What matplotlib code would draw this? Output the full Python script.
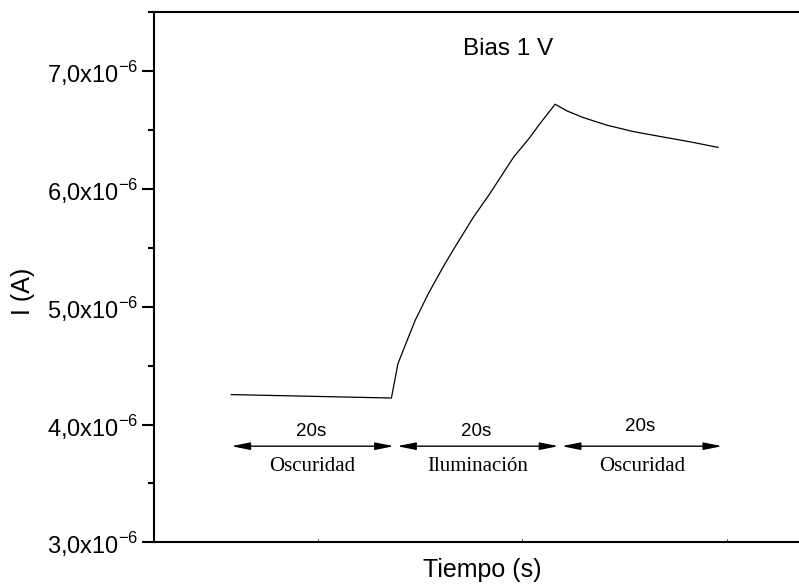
import numpy as np
import matplotlib
matplotlib.use('Agg')
import matplotlib.pyplot as plt
from matplotlib.ticker import MultipleLocator, FixedLocator, FuncFormatter

plt.rcParams['font.family'] = ['Liberation Sans', 'DejaVu Sans']
plt.rcParams['mathtext.fontset'] = 'custom'
plt.rcParams['mathtext.rm'] = 'Liberation Sans'

# time (s) and current (x1e-6 A)
t = [14.45, 34.0, 34.8, 35.6, 36.9, 38.5, 40.3, 41.5, 44.0, 46.0, 48.9,
     50.9, 52.1, 54.0, 55.4, 57.4, 60.3, 63.5, 66.8, 70.5, 73.9]
i_ua = [4.254, 4.225, 4.517, 4.658, 4.884, 5.11, 5.336, 5.477, 5.759, 5.958, 6.268,
        6.437, 6.551, 6.72, 6.664, 6.607, 6.542, 6.488, 6.446, 6.40, 6.353]

# phase arrows: start, end, label
phases = [(14.45, 34.3, 'Oscuridad'), (34.7, 54.4, 'Iluminación'), (54.8, 74.4, 'Oscuridad')]
dur_labels = ['20s', '20s', '20s']

fig = plt.figure(figsize=(7.99, 5.86), dpi=100)
ax = fig.add_axes([0.1927, 0.0746, 0.8198, 0.9044])

ax.plot(np.array(t), np.array(i_ua) * 1e-6, color='black', lw=0.9)

arrow_y = 3.816e-6
for k, (a, b, name) in enumerate(phases):
    ax.annotate('', xy=(b, arrow_y), xytext=(a, arrow_y),
                arrowprops=dict(arrowstyle='<|-|>,head_length=0.8,head_width=0.16',
                                color='black', lw=1.0, mutation_scale=14,
                                shrinkA=0, shrinkB=0))
    mid = (a + b) / 2
    dy = 0.125e-6 if k < 2 else 0.165e-6
    ax.text(mid - 0.2, arrow_y + dy, dur_labels[k], ha='center', va='center', fontsize=13.5)
    ax.text(mid, arrow_y - 0.175e-6, name, ha='center', va='center', fontsize=15,
            family='Liberation Serif')

ax.text(48.3, 7.19e-6, 'Bias 1 V', ha='center', va='center', fontsize=17.5)

ax.set_xlim(5, 85)
ax.set_ylim(3.0e-6, 7.5e-6)

ax.yaxis.set_major_locator(MultipleLocator(1e-6))
ax.yaxis.set_minor_locator(MultipleLocator(0.5e-6))
ax.yaxis.set_major_formatter(FuncFormatter(
    lambda v, p: ('%.1f' % (v * 1e6)).replace('.', ',') + r'x10$^{\mathregular{-6}}$'))
ax.tick_params(axis='y', which='major', length=9, width=1.5, labelsize=17, direction='out', pad=2)
ax.tick_params(axis='y', which='minor', length=4, width=1.5, direction='out')

ax.xaxis.set_major_locator(FixedLocator([25, 50, 75]))
ax.set_xticklabels([])
ax.tick_params(axis='x', which='major', length=2, width=0.6, direction='in')

for s in ['left', 'top', 'bottom', 'right']:
    ax.spines[s].set_linewidth(1.5)

ax.set_ylabel('I (A)', fontsize=18)
ax.set_xlabel('Tiempo (s)', fontsize=18)
ax.xaxis.set_label_coords((482 - 154) / (809 - 154), -0.029)
ax.yaxis.set_label_coords((35 - 154) / (809 - 154), 0.474)

fig.savefig('out.png', dpi=100)
